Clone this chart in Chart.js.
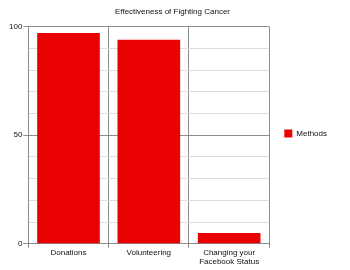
<!DOCTYPE html>
<html>
<head>
<meta charset="utf-8">
<script src="https://cdn.jsdelivr.net/npm/chart.js@4"></script>
<style>
    html, body { margin: 0; padding: 0; background: #fff; }
    #wrap { width: 350px; height: 270px; }
</style>
</head>
<body>
<div id="wrap"><canvas id="chart"></canvas></div>
<script>
/*
 * Bar chart: effectiveness of fighting cancer
 **/

var categories = ["Donations", "Volunteering", ["Changing your", "Facebook Status"]];
var methodsValues = [97, 94, 5];
var yLabelTicks = [0, 50, 100];

(function() {

    var darkLine = '#8c8c8c';
    var lightLine = '#dedede';
    var font = { family: 'Liberation Sans, Arial, sans-serif', size: 8 };

    function isMajor(v) {
	return yLabelTicks.indexOf(v) !== -1;
    }

    new Chart(document.getElementById('chart').getContext('2d'), {
	type: 'bar',
	data: {
	    labels: categories,
	    datasets: [ {
		label: 'Methods',
		data: methodsValues,
		backgroundColor: '#e90000',
		borderWidth: 0,
		categoryPercentage: 1.0,
		barPercentage: 0.78
	    } ]
	},
	options: {
	    responsive: true,
	    maintainAspectRatio: false,
	    animation: false,
	    layout: { padding: { left: 8, right: 13, top: 0, bottom: 3 } },
	    plugins: {
		title: {
		    display: true,
		    text: 'Effectiveness of Fighting Cancer',
		    color: '#111',
		    font: { family: font.family, size: 8, weight: 'normal' },
		    padding: { top: 7, bottom: 10 }
		},
		legend: {
		    position: 'right',
		    labels: {
			boxWidth: 8,
			boxHeight: 8,
			padding: 15,
			color: '#111',
			font: font
		    }
		},
		tooltip: { enabled: false }
	    },
	    scales: {
		x: {
		    grid: {
			offset: true,
			color: darkLine,
			tickColor: darkLine,
			tickLength: 4
		    },
		    border: { color: darkLine },
		    ticks: { color: '#111', font: font, padding: 0, maxRotation: 0 }
		},
		y: {
		    min: 0,
		    max: 100,
		    grid: {
			color: function(ctx) {
			    return isMajor(ctx.tick.value) ? darkLine : lightLine;
			},
			tickColor: function(ctx) {
			    return isMajor(ctx.tick.value) ? darkLine : 'rgba(0,0,0,0)';
			},
			tickLength: 5
		    },
		    border: { color: darkLine },
		    ticks: {
			stepSize: 10,
			color: '#111',
			font: font,
			padding: 1,
			callback: function(v) {
			    return isMajor(v) ? v : '';
			}
		    }
		}
	    }
	}
    });

}());
</script>
</body>
</html>
